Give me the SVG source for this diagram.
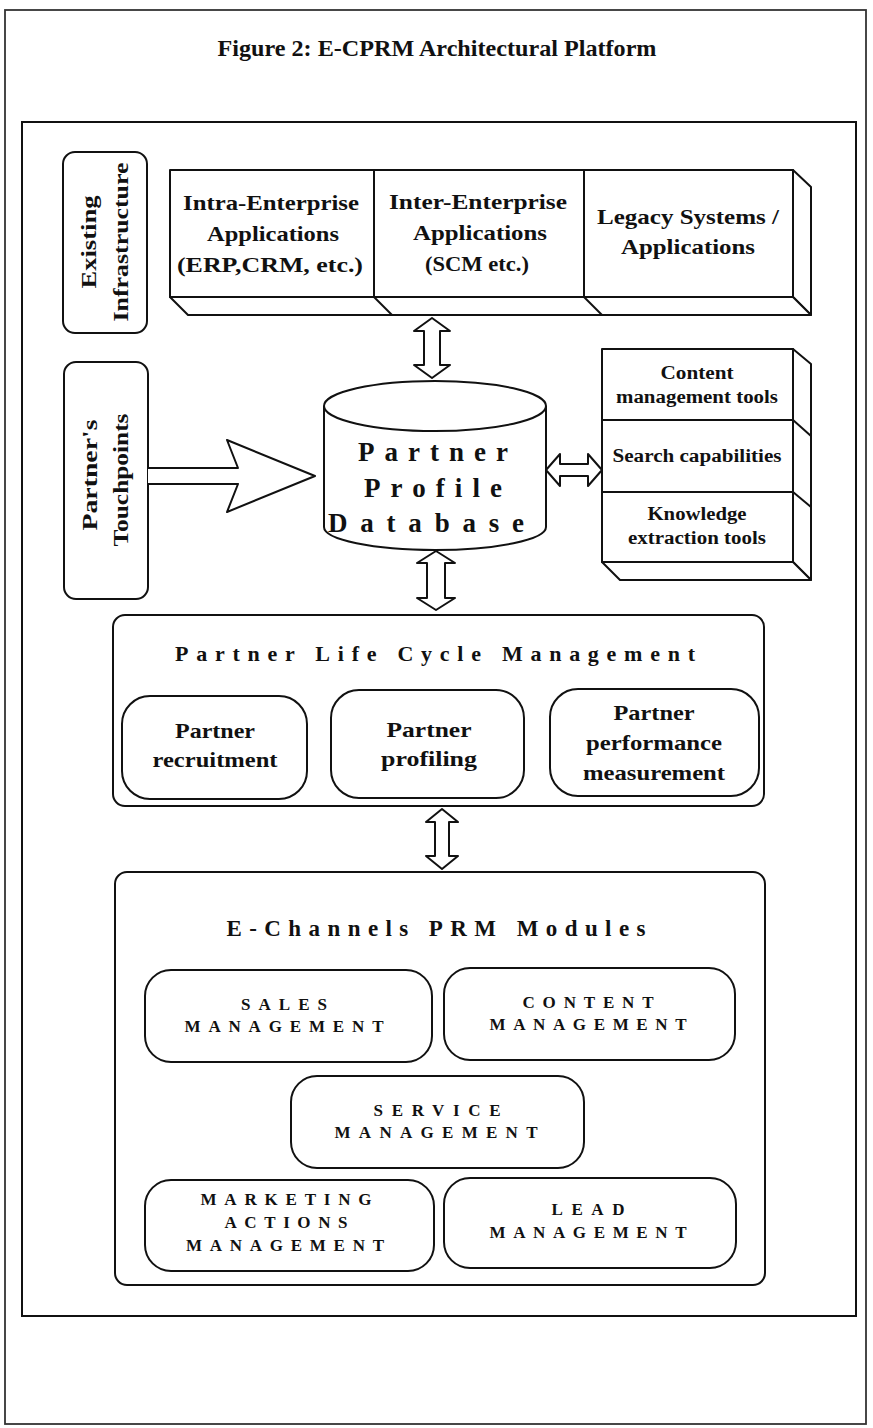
<svg xmlns="http://www.w3.org/2000/svg" width="873" height="1428" viewBox="0 0 873 1428">
<style>
.ln{fill:#fff;stroke:#111;stroke-width:2;stroke-linejoin:round}
.nf{fill:none;stroke:#111;stroke-width:2}
.t{font-family:"Liberation Serif","Times New Roman",serif;font-weight:bold;fill:#111;text-anchor:middle}
</style>
<rect x="0" y="0" width="873" height="1428" fill="#fff"/>
<rect x="5" y="10" width="861" height="1414" fill="none" stroke="#333" stroke-width="1.8"/>
<text class="t" x="437" y="56" font-size="23" textLength="439" lengthAdjust="spacingAndGlyphs">Figure 2: E-CPRM Architectural Platform</text>
<rect x="22" y="122" width="834" height="1194" fill="none" stroke="#111" stroke-width="2"/>

<g id="existing-infrastructure">
<rect class="ln" x="63" y="152" width="84" height="181" rx="12"/>
<text class="t" font-size="21" transform="translate(96,242) rotate(-90)" textLength="93" lengthAdjust="spacingAndGlyphs">Existing</text>
<text class="t" font-size="21" transform="translate(128,242) rotate(-90)" textLength="159" lengthAdjust="spacingAndGlyphs">Infrastructure</text>
</g>

<g id="applications">
<polygon class="ln" points="793,170 811,187 811,315 793,297"/>
<polygon class="ln" points="170,297 188,315 811,315 793,297"/>
<rect class="ln" x="170" y="170" width="623" height="127"/>
<line class="nf" x1="374" y1="170" x2="374" y2="297"/>
<line class="nf" x1="374" y1="297" x2="392" y2="315"/>
<line class="nf" x1="584" y1="170" x2="584" y2="297"/>
<line class="nf" x1="584" y1="297" x2="602" y2="315"/>
<text class="t" font-size="21" x="271" y="210" textLength="176" lengthAdjust="spacingAndGlyphs">Intra-Enterprise</text>
<text class="t" font-size="21" x="273" y="241" textLength="132" lengthAdjust="spacingAndGlyphs">Applications</text>
<text class="t" font-size="21" x="270" y="272" textLength="186" lengthAdjust="spacingAndGlyphs">(ERP,CRM, etc.)</text>
<text class="t" font-size="21" x="478" y="209" textLength="178" lengthAdjust="spacingAndGlyphs">Inter-Enterprise</text>
<text class="t" font-size="21" x="480" y="240" textLength="134" lengthAdjust="spacingAndGlyphs">Applications</text>
<text class="t" font-size="21" x="477" y="271" textLength="104" lengthAdjust="spacingAndGlyphs">(SCM etc.)</text>
<text class="t" font-size="21" x="688" y="224" textLength="182" lengthAdjust="spacingAndGlyphs">Legacy Systems /</text>
<text class="t" font-size="21" x="688" y="254" textLength="134" lengthAdjust="spacingAndGlyphs">Applications</text>
</g>

<g id="touchpoints">
<rect class="ln" x="64" y="362" width="84" height="237" rx="12"/>
<text class="t" font-size="21" transform="translate(97,475) rotate(-90)" textLength="111" lengthAdjust="spacingAndGlyphs">Partner's</text>
<text class="t" font-size="21" transform="translate(128,480) rotate(-90)" textLength="133" lengthAdjust="spacingAndGlyphs">Touchpoints</text>
</g>

<g id="partner-profile-database">
<path class="ln" d="M324,406 A111,25 0 0 1 546,406 L546,527 A111,23 0 0 1 324,527 Z"/>
<path class="nf" d="M324,406 A111,25 0 0 0 546,406"/>
<text class="t" font-size="27" x="433" y="461" textLength="150" lengthAdjust="spacing">Partner</text>
<text class="t" font-size="27" x="433" y="497" textLength="138" lengthAdjust="spacing">Profile</text>
<text class="t" font-size="27" x="426" y="532" textLength="196" lengthAdjust="spacing">Database</text>
</g>

<g id="tools">
<polygon class="ln" points="793,349 811,364 811,580 793,562"/>
<polygon class="ln" points="602,562 620,580 811,580 793,562"/>
<rect class="ln" x="602" y="349" width="191" height="213"/>
<line class="nf" x1="602" y1="420" x2="793" y2="420"/>
<line class="nf" x1="793" y1="420" x2="811" y2="436"/>
<line class="nf" x1="602" y1="492" x2="793" y2="492"/>
<line class="nf" x1="793" y1="492" x2="811" y2="507"/>
<text class="t" font-size="18" x="697" y="379" textLength="73" lengthAdjust="spacingAndGlyphs">Content</text>
<text class="t" font-size="18" x="697" y="403" textLength="162" lengthAdjust="spacingAndGlyphs">management tools</text>
<text class="t" font-size="18" x="697" y="462" textLength="169" lengthAdjust="spacingAndGlyphs">Search capabilities</text>
<text class="t" font-size="18" x="697" y="520" textLength="99" lengthAdjust="spacingAndGlyphs">Knowledge</text>
<text class="t" font-size="18" x="697" y="544" textLength="138" lengthAdjust="spacingAndGlyphs">extraction tools</text>
</g>

<g id="life-cycle">
<rect class="ln" x="113" y="615" width="651" height="191" rx="12"/>
<text class="t" font-size="22" x="435" y="661" textLength="520" lengthAdjust="spacing">Partner Life Cycle Management</text>
<rect class="ln" x="122" y="696" width="185" height="103" rx="28"/>
<text class="t" font-size="22" x="215" y="738" textLength="80" lengthAdjust="spacingAndGlyphs">Partner</text>
<text class="t" font-size="22" x="215" y="767" textLength="125" lengthAdjust="spacingAndGlyphs">recruitment</text>
<rect class="ln" x="331" y="690" width="193" height="108" rx="28"/>
<text class="t" font-size="22" x="429" y="737" textLength="85" lengthAdjust="spacingAndGlyphs">Partner</text>
<text class="t" font-size="22" x="429" y="766" textLength="96" lengthAdjust="spacingAndGlyphs">profiling</text>
<rect class="ln" x="550" y="689" width="209" height="107" rx="28"/>
<text class="t" font-size="22" x="654" y="720" textLength="81" lengthAdjust="spacingAndGlyphs">Partner</text>
<text class="t" font-size="22" x="654" y="750" textLength="136" lengthAdjust="spacingAndGlyphs">performance</text>
<text class="t" font-size="22" x="654" y="780" textLength="142" lengthAdjust="spacingAndGlyphs">measurement</text>
</g>

<g id="prm-modules">
<rect class="ln" x="115" y="872" width="650" height="413" rx="12"/>
<text class="t" font-size="23" x="436" y="936" textLength="419" lengthAdjust="spacing">E-Channels PRM Modules</text>
</g>
<g id="sales">
<rect class="ln" x="145" y="970" width="287" height="92" rx="26"/>
<text class="t" font-size="17" x="284" y="1010" textLength="86" lengthAdjust="spacing">SALES</text>
<text class="t" font-size="17" x="284" y="1032" textLength="199" lengthAdjust="spacing">MANAGEMENT</text>
</g>
<g id="content">
<rect class="ln" x="444" y="968" width="291" height="92" rx="26"/>
<text class="t" font-size="17" x="588" y="1008" textLength="131" lengthAdjust="spacing">CONTENT</text>
<text class="t" font-size="17" x="588" y="1030" textLength="197" lengthAdjust="spacing">MANAGEMENT</text>
</g>
<g id="service">
<rect class="ln" x="291" y="1076" width="293" height="92" rx="26"/>
<text class="t" font-size="17" x="437" y="1116" textLength="127" lengthAdjust="spacing">SERVICE</text>
<text class="t" font-size="17" x="436" y="1138" textLength="203" lengthAdjust="spacing">MANAGEMENT</text>
</g>
<g id="marketing">
<rect class="ln" x="145" y="1180" width="289" height="91" rx="26"/>
<text class="t" font-size="17" x="286" y="1205" textLength="171" lengthAdjust="spacing">MARKETING</text>
<text class="t" font-size="17" x="286" y="1228" textLength="123" lengthAdjust="spacing">ACTIONS</text>
<text class="t" font-size="17" x="285" y="1251" textLength="198" lengthAdjust="spacing">MANAGEMENT</text>
</g>
<g id="lead">
<rect class="ln" x="444" y="1178" width="292" height="90" rx="26"/>
<text class="t" font-size="17" x="588" y="1215" textLength="73" lengthAdjust="spacing">LEAD</text>
<text class="t" font-size="17" x="588" y="1238" textLength="197" lengthAdjust="spacing">MANAGEMENT</text>
</g>

<g id="connectors">
<path class="ln" d="M432,318 L450,331 L440,331 L440,365 L450,365 L432,378 L414,365 L424,365 L424,331 L414,331 Z"/>
<path class="ln" d="M148,468 L238,468 L227,440 L315,476 L227,512 L238,484 L148,484"/>
<path class="ln" d="M546,470 L560,454 L560,464 L588,464 L588,454 L602,470 L588,486 L588,476 L560,476 L560,486 Z"/>
<path class="ln" d="M436,551 L455,563 L445,563 L445,598 L455,598 L436,610 L417,598 L427,598 L427,563 L417,563 Z"/>
<path class="ln" d="M442,809 L458,822 L449,822 L449,856 L458,856 L442,869 L426,856 L435,856 L435,822 L426,822 Z"/>
</g>
</svg>
